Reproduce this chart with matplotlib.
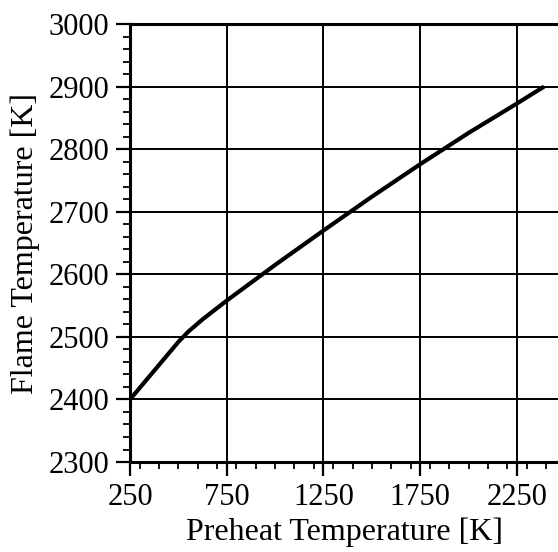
import matplotlib
matplotlib.use('Agg')
import matplotlib.pyplot as plt
from matplotlib.ticker import MultipleLocator

# preheat temperature [K] and adiabatic flame temperature [K]
preheat = [250, 500, 550, 625, 750, 1000, 1250, 1500, 1750, 2000, 2250, 2390]
flame = [2400, 2492, 2508, 2528, 2558, 2615, 2670, 2724, 2776, 2826, 2873, 2900]

x_ticks = [250, 750, 1250, 1750, 2250]
y_ticks = [2300, 2400, 2500, 2600, 2700, 2800, 2900, 3000]

plt.rcParams['font.family'] = ['Liberation Serif', 'DejaVu Serif']

fig = plt.figure(figsize=(5.58, 5.52), dpi=100)
ax = fig.add_axes([0.233, 0.163, 0.767, 0.7935])

ax.plot(preheat, flame, color='black', linewidth=3.0,
        solid_capstyle='butt', solid_joinstyle='round')

ax.set_xlim(250, 2462)
ax.set_ylim(2300, 3000)
ax.set_xticks(x_ticks)
ax.set_yticks(y_ticks)
ax.xaxis.set_minor_locator(MultipleLocator(100))
ax.yaxis.set_minor_locator(MultipleLocator(20))

ax.grid(True, which='major', color='black', linewidth=1.4)
ax.set_axisbelow(True)

for side in ['left', 'bottom', 'top']:
    ax.spines[side].set_linewidth(2.2)
ax.spines['right'].set_visible(False)

ax.tick_params(which='major', direction='out', length=10, width=1.6,
               labelsize=22, pad=5)
ax.tick_params(which='minor', direction='out', length=5, width=1.3)
ax.tick_params(top=False, right=False, which='both')

ax.set_xlabel('Preheat Temperature [K]', fontsize=23, labelpad=4)
ax.set_ylabel('Flame Temperature [K]', fontsize=23, labelpad=6)

fig.savefig('out.png', dpi=100)
plt.close(fig)
